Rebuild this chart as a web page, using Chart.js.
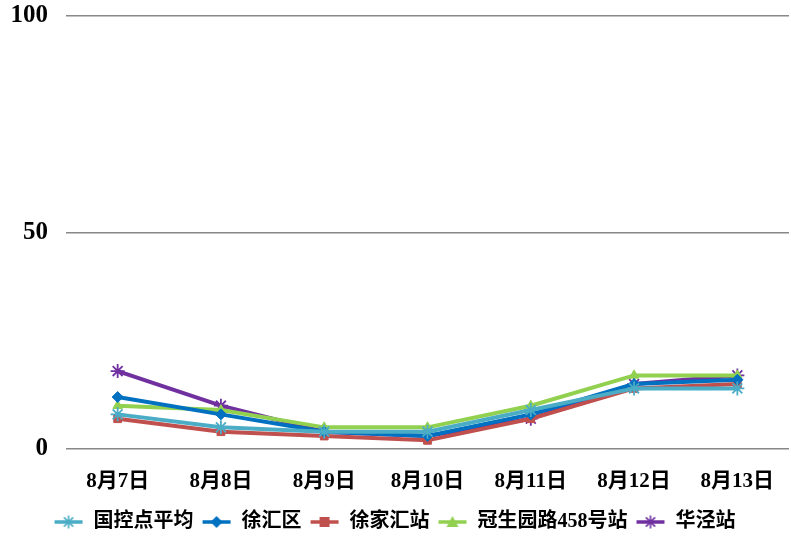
<!DOCTYPE html>
<html>
<head>
<meta charset="utf-8">
<script src="https://cdn.jsdelivr.net/npm/chart.js@4.4.1/dist/chart.umd.min.js"></script>
<style>
  html, body { margin: 0; padding: 0; background: #fff; }
  #wrap { width: 791px; height: 549px; }
</style>
</head>
<body>
<div id="wrap"><canvas id="aqiChart" width="791" height="549"></canvas></div>
<script>
// categories and values
const dates = ["8月7日", "8月8日", "8月9日", "8月10日", "8月11日", "8月12日", "8月13日"];
const seriesNames = ["国控点平均", "徐汇区", "徐家汇站", "冠生园路458号站", "华泾站"];
const guokongAvg = [8, 5, 4, 4, 9, 14, 14];
const xuhuiQu = [12, 8, 4, 3, 8, 15, 16];
const xujiahui = [7, 4, 3, 2, 7, 14, 15];
const guanshengyuan = [10, 9, 5, 5, 10, 17, 17];
const huajing = [18, 10, 4, 3, 7, 15, 17];
const yTicks = [0, 50, 100];

const fontFamily = "'Liberation Serif', 'Noto Sans CJK SC', serif";

const colors = ["#4BACC6", "#0070C0", "#C0504D", "#92D050", "#7030A0"];
const styles = ["star", "rectRot", "rect", "triangle", "star"];

// draw one marker by hand (used for the legend swatches)
function marker(g, style, x, y, r) {
    g.beginPath();
    if (style === "rect") {
        g.rect(x - r, y - r, 2 * r, 2 * r);
        g.fill();
    } else if (style === "rectRot") {
        g.moveTo(x, y - r - 1);
        g.lineTo(x + r + 1, y);
        g.lineTo(x, y + r + 1);
        g.lineTo(x - r - 1, y);
        g.closePath();
        g.fill();
    } else if (style === "triangle") {
        g.moveTo(x, y - r - 1);
        g.lineTo(x + r + 1, y + r);
        g.lineTo(x - r - 1, y + r);
        g.closePath();
        g.fill();
    } else {
        g.lineWidth = 1.6;
        for (let k = 0; k < 4; k++) {
            const a = k * Math.PI / 4;
            g.moveTo(x - Math.cos(a) * r, y - Math.sin(a) * r);
            g.lineTo(x + Math.cos(a) * r, y + Math.sin(a) * r);
        }
        g.stroke();
    }
}

// legend swatch: short line with the marker in the middle
function legendSwatch(color, style) {
    const c = document.createElement("canvas");
    c.width = 30;
    c.height = 16;
    const g = c.getContext("2d");
    g.strokeStyle = color;
    g.fillStyle = color;
    g.lineWidth = 3.5;
    g.beginPath();
    g.moveTo(1, 8);
    g.lineTo(29, 8);
    g.stroke();
    marker(g, style, 15, 8, style === "star" ? 6.5 : 5);
    return c;
}

const allValues = [guokongAvg, xuhuiQu, xujiahui, guanshengyuan, huajing];
const datasets = seriesNames.map(function (name, i) {
    const isStar = styles[i] === "star";
    return {
        label: name,
        data: allValues[i],
        borderColor: colors[i],
        backgroundColor: colors[i],
        pointBackgroundColor: colors[i],
        pointBorderColor: colors[i],
        pointStyle: styles[i],
        pointRadius: isStar ? 7 : 5.5,
        pointBorderWidth: isStar ? 1.8 : 1,
        borderWidth: 4,
        tension: 0,
        swatch: legendSwatch(colors[i], styles[i])
    };
});

new Chart(document.getElementById("aqiChart"), {
    type: "line",
    data: { labels: dates, datasets: datasets },
    options: {
        responsive: false,
        animation: false,
        layout: { autoPadding: false, padding: { top: 16, right: 2, left: 0, bottom: 7 } },
        scales: {
            x: {
                offset: true,
                grid: { display: false },
                border: { display: false },
                afterFit: function (axis) {
                    axis.height = 55;
                    axis.paddingLeft = 0;
                    axis.paddingRight = 0;
                },
                ticks: {
                    color: "#000",
                    font: { family: fontFamily, size: 21, weight: "bold" },
                    padding: 12,
                    maxRotation: 0
                }
            },
            y: {
                min: 0,
                max: 100,
                afterBuildTicks: function (axis) {
                    axis.ticks = yTicks.map(v => ({ value: v }));
                },
                afterFit: function (axis) {
                    axis.width = 66;
                    axis.paddingTop = 0;
                    axis.paddingBottom = 0;
                },
                grid: { color: "#888", lineWidth: 1.5, drawTicks: false },
                border: { display: false },
                ticks: {
                    color: "#000",
                    padding: 18,
                    font: { family: fontFamily, size: 25, weight: "bold" }
                }
            }
        },
        plugins: {
            tooltip: { enabled: false },
            legend: {
                position: "bottom",
                labels: {
                    usePointStyle: true,
                    pointStyleWidth: 30,
                    color: "#000",
                    padding: 8,
                    font: { family: fontFamily, size: 20, weight: "bold" },
                    generateLabels: function (chart) {
                        return chart.data.datasets.map(function (ds, i) {
                            return {
                                text: ds.label,
                                pointStyle: ds.swatch,
                                fillStyle: ds.borderColor,
                                strokeStyle: ds.borderColor,
                                lineWidth: 0,
                                fontColor: "#000",
                                datasetIndex: i,
                                hidden: false
                            };
                        });
                    }
                }
            }
        }
    }
});
</script>
</body>
</html>
